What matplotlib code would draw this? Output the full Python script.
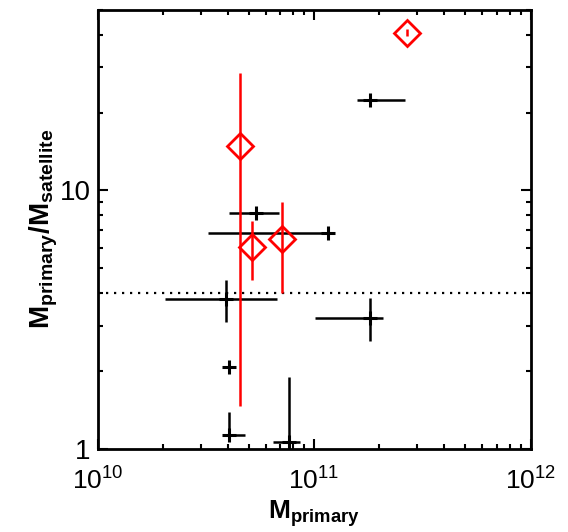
import matplotlib
matplotlib.use('Agg')
import matplotlib.pyplot as plt
import numpy as np
from matplotlib.ticker import LogLocator, NullFormatter

plt.rcParams['font.family'] = ['Liberation Sans', 'DejaVu Sans']
plt.rcParams['mathtext.fontset'] = 'custom'
plt.rcParams['mathtext.rm'] = 'Liberation Sans'
plt.rcParams['mathtext.bf'] = 'Liberation Sans:bold'
plt.rcParams['mathtext.it'] = 'Liberation Sans:italic'

# black crosses: centre, lower and upper bounds
m_prim = [1.81e11, 5.40e10, 1.165e11, 3.92e10, 1.81e11, 4.03e10, 4.03e10, 7.69e10]
m_prim_lo = [1.58e11, 4.07e10, 3.23e10, 2.05e10, 1.01e11, 4.03e10, 4.03e10, 6.45e10]
m_prim_hi = [2.63e11, 6.90e10, 1.165e11, 6.71e10, 2.09e11, 4.03e10, 4.79e10, 8.63e10]
ratio = [22.4, 8.21, 6.83, 3.79, 3.21, 2.07, 1.136, 1.06]
ratio_lo = [22.4, 8.21, 6.83, 3.09, 2.62, 2.07, 1.136, 0.9]
ratio_hi = [22.4, 8.21, 6.83, 4.52, 3.82, 2.07, 1.395, 1.90]

# red diamonds
red_prim = [4.54e10, 5.19e10, 7.08e10, 2.69e11]
red_ratio = [14.9, 6.06, 6.48, 40.7]
red_ratio_lo = [1.46, 4.52, 4.0, 39.5]
red_ratio_hi = [28.4, 7.61, 9.0, 41.9]

ratio_line = 4.0

fig = plt.figure(figsize=(5.68, 5.32), dpi=100)
ax = fig.add_axes([0.1717, 0.156, 0.7623, 0.826])

x = np.array(m_prim)
y = np.array(ratio)
xerr = [x - np.array(m_prim_lo), np.array(m_prim_hi) - x]
yerr = [y - np.array(ratio_lo), np.array(ratio_hi) - y]
ax.errorbar(x, y, xerr=xerr, yerr=yerr, fmt='+', color='k', ms=10, mew=2.2,
            elinewidth=1.8, capsize=0, zorder=2)

rx = np.array(red_prim)
ry = np.array(red_ratio)
ryerr = [ry - np.array(red_ratio_lo), np.array(red_ratio_hi) - ry]
ax.errorbar(rx, ry, yerr=ryerr, fmt='none', ecolor='red', elinewidth=1.8,
            capsize=0, zorder=3)
ax.plot(rx, ry, 'D', ms=13, mfc='none', mec='red', mew=2, zorder=4)

ax.axhline(ratio_line, color='k', lw=1.6, linestyle=(0, (1, 2.6)), zorder=1)

ax.set_xscale('log')
ax.set_yscale('log')
ax.set_xlim(1e10, 1e12)
ax.set_ylim(1, 50)

ax.yaxis.set_minor_locator(LogLocator(base=10, subs=np.arange(2, 10)))
ax.yaxis.set_minor_formatter(NullFormatter())
ax.set_yticks([1, 10])
ax.set_yticklabels(['1', '10'])

ax.tick_params(which='both', direction='in', top=True, right=True, width=1.5)
ax.tick_params(which='major', length=7)
ax.tick_params(which='minor', length=3.5)
ax.tick_params(axis='x', which='major', labelsize=19, pad=13)
ax.tick_params(axis='y', which='major', labelsize=20, pad=5)
for s in ax.spines.values():
    s.set_linewidth(2)

ax.set_xlabel(r'$\mathbf{M_{primary}}$', fontsize=19, labelpad=3)
ax.set_ylabel(r'$\mathbf{M_{primary}/M_{satellite}}$', fontsize=20, labelpad=0)

fig.savefig('out.png', dpi=100)
